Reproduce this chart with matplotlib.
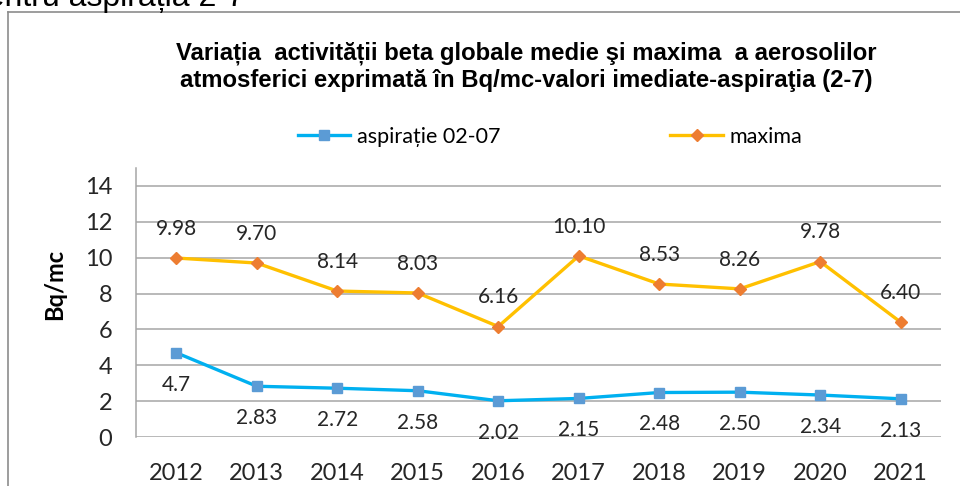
import matplotlib.pyplot as plt
from matplotlib.lines import Line2D

# date
ani = ['2012', '2013', '2014', '2015', '2016', '2017', '2018', '2019', '2020', '2021']
aspiratie = [4.7, 2.83, 2.72, 2.58, 2.02, 2.15, 2.48, 2.50, 2.34, 2.13]
maxima = [9.98, 9.70, 8.14, 8.03, 6.16, 10.10, 8.53, 8.26, 9.78, 6.40]
et_aspiratie = ['4.7', '2.83', '2.72', '2.58', '2.02', '2.15', '2.48', '2.50', '2.34', '2.13']
et_maxima = ['9.98', '9.70', '8.14', '8.03', '6.16', '10.10', '8.53', '8.26', '9.78', '6.40']

W, H = 960, 486
fig = plt.figure(figsize=(W / 100, H / 100), dpi=100)

# chenarul graficului (taiat in dreapta si jos)
fig.add_artist(Line2D([8 / W, 8 / W], [0, 1 - 12 / H], color='#8c8c8c', lw=1.2))
fig.add_artist(Line2D([8 / W, 1], [1 - 12 / H, 1 - 12 / H], color='#8c8c8c', lw=1.2))

# textul de deasupra, taiat
fig.text(245 / W, 1 - 6 / H, 'pentru aspirația 2-7', ha='right', va='baseline',
         fontsize=23, family='Liberation Sans', color='black')

ax = fig.add_axes([136 / W, 49 / H, 805 / W, 269 / H])
x = list(range(len(ani)))

ax.plot(x, maxima, color='#FFC000', lw=2.4, marker='D', markersize=6.5,
        markerfacecolor='#ED7D31', markeredgecolor='#ED7D31', zorder=3)
ax.plot(x, aspiratie, color='#00B0F0', lw=2.4, marker='s', markersize=7,
        markerfacecolor='#5B9BD5', markeredgecolor='#5B9BD5', zorder=3)

for xi, v, t in zip(x, maxima, et_maxima):
    ax.annotate(t, (xi, v), xytext=(0, 21), textcoords='offset points',
                ha='center', va='center', fontsize=15, family='Lato', color='#262626')
for xi, v, t in zip(x, aspiratie, et_aspiratie):
    ax.annotate(t, (xi, v), xytext=(0, -23), textcoords='offset points',
                ha='center', va='center', fontsize=15, family='Lato', color='#262626')

ax.set_xlim(-0.5, len(ani) - 0.5)
ax.set_ylim(0, 15)
ax.set_yticks(range(0, 15, 2))
ax.set_xticks(x)
ax.set_xticklabels(ani)
ax.tick_params(axis='both', length=0, labelsize=17, colors='#262626')
ax.tick_params(axis='x', pad=19)
ax.tick_params(axis='y', pad=17)
for lab in ax.get_xticklabels() + ax.get_yticklabels():
    lab.set_family('Lato')

ax.grid(axis='y', color='#a6a6a6', lw=1.1)
ax.set_axisbelow(True)
for s in ['top', 'right', 'bottom']:
    ax.spines[s].set_visible(False)
ax.spines['left'].set_color('#a6a6a6')
ax.spines['left'].set_linewidth(1.1)

fig.text(55 / W, 1 - 284 / H, 'Bq/mc', rotation=90, ha='center', va='center',
         fontsize=17, fontweight='bold', family='Lato')

fig.text(526 / W, 1 - 53 / H,
         'Variația  activității beta globale medie şi maxima  a aerosolilor',
         ha='center', va='center', fontsize=17.2, fontweight='bold', family='Liberation Sans')
fig.text(526 / W, 1 - 80 / H,
         'atmosferici exprimată în Bq/mc-valori imediate-aspiraţia (2-7)',
         ha='center', va='center', fontsize=17.2, fontweight='bold', family='Liberation Sans')

# legenda
h1 = Line2D([], [], color='#00B0F0', lw=2.4, marker='s', markersize=7,
            markerfacecolor='#5B9BD5', markeredgecolor='#5B9BD5')
h2 = Line2D([], [], color='#FFC000', lw=2.4, marker='D', markersize=6.5,
            markerfacecolor='#ED7D31', markeredgecolor='#ED7D31')
fig.legend([h1, h2], ['aspirație 02-07', 'maxima'], loc='center',
           bbox_to_anchor=(550 / W, 1 - 137 / H), ncol=2, frameon=False,
           prop={'family': 'Lato', 'size': 15.5}, handlelength=2.45,
           columnspacing=7.9, handletextpad=0.3)

fig.savefig('out.png', dpi=100)
